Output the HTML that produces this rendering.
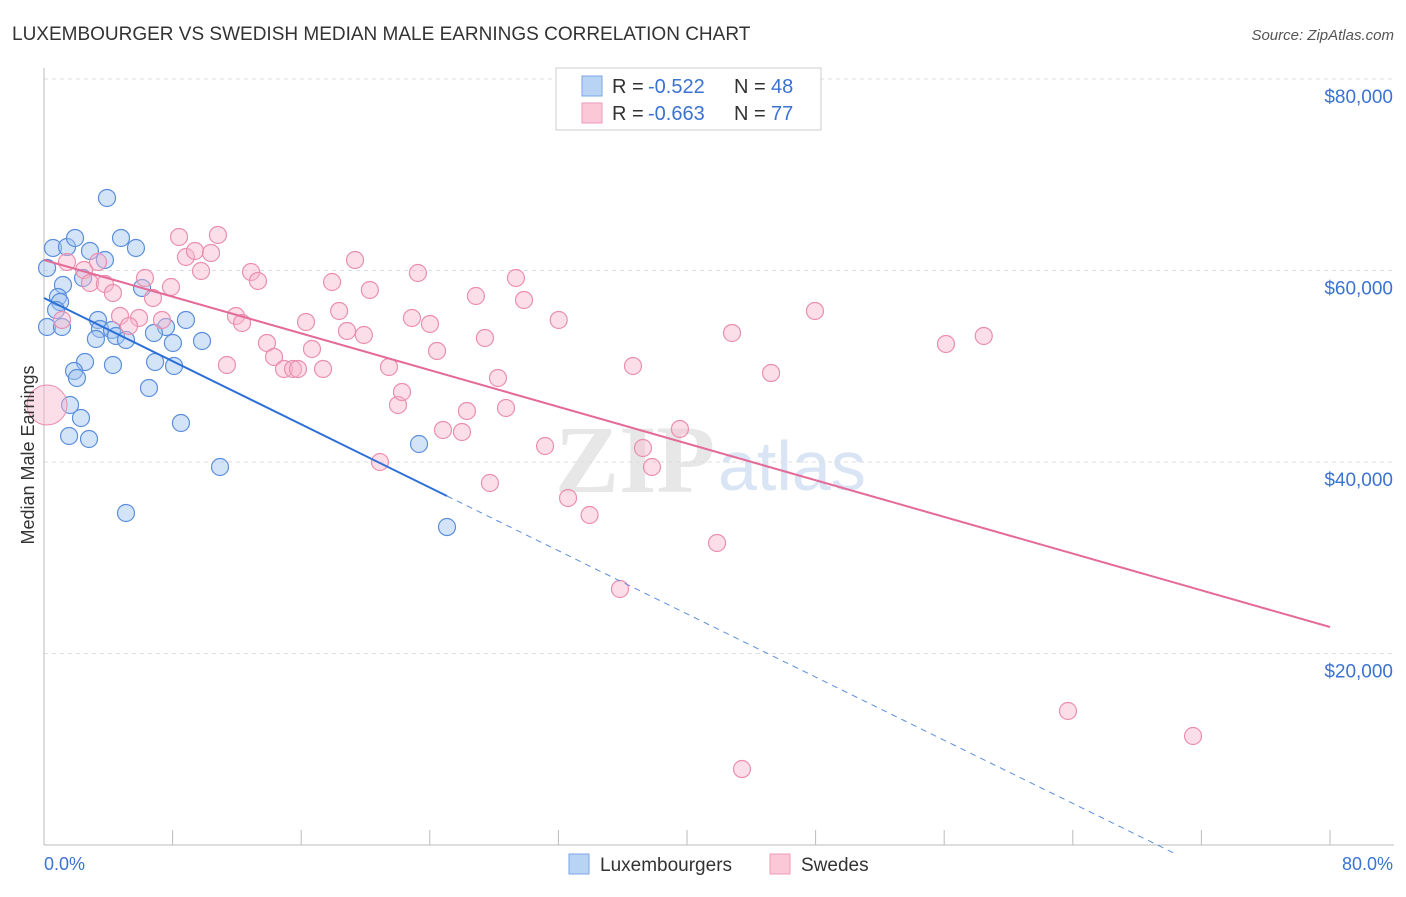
<!DOCTYPE html>
<html><head><meta charset="utf-8"><style>
body{margin:0;background:#fff;font-family:"Liberation Sans",sans-serif}
</style></head><body>
<svg id="c" width="1406" height="892" xmlns="http://www.w3.org/2000/svg">
<text x="12" y="40" font-size="19" fill="#333">LUXEMBOURGER VS SWEDISH MEDIAN MALE EARNINGS CORRELATION CHART</text>
<text x="1394" y="40" font-size="15" fill="#555" font-style="italic" text-anchor="end">Source: ZipAtlas.com</text>
<text x="555" y="492" font-size="96" fill="#ddd" font-family="Liberation Serif" font-weight="bold" opacity="0.7">ZIP</text>
<text x="718" y="490" font-size="70" fill="#c9d9f2" opacity="0.7">atlas</text>
<g id="grid"></g><g id="axes"></g><g id="pts"></g><g id="lines"></g>
<text transform="translate(34,455) rotate(-90)" font-size="18" fill="#333" text-anchor="middle">Median Male Earnings</text>
<text x="44" y="870" font-size="18" fill="#3b73d1">0.0%</text>
<text x="1393" y="870" font-size="18" fill="#3b73d1" text-anchor="end">80.0%</text>
<g>
<rect x="556" y="68" width="265" height="62" fill="#fff" stroke="#ccc"/>
<rect x="582" y="76" width="20" height="20" fill="#b9d3f5" stroke="#7aa6e6"/>
<rect x="582" y="103" width="20" height="20" fill="#fbc8d8" stroke="#ee9ab6"/>
<text x="612" y="93" font-size="20" fill="#333">R =</text>
<text x="648" y="93" font-size="20" fill="#3b73d1">-0.522</text>
<text x="734" y="93" font-size="20" fill="#333">N =</text>
<text x="771" y="93" font-size="20" fill="#3b73d1">48</text>
<text x="612" y="120" font-size="20" fill="#333">R =</text>
<text x="648" y="120" font-size="20" fill="#3b73d1">-0.663</text>
<text x="734" y="120" font-size="20" fill="#333">N =</text>
<text x="771" y="120" font-size="20" fill="#3b73d1">77</text>
</g>
<g>
<rect x="569" y="854" width="20" height="20" fill="#b9d3f5" stroke="#7aa6e6"/>
<text x="600" y="871" font-size="19" fill="#333">Luxembourgers</text>
<rect x="770" y="854" width="20" height="20" fill="#fbc8d8" stroke="#ee9ab6"/>
<text x="801" y="871" font-size="19" fill="#333">Swedes</text>
</g>
</svg>
<script>
const yTicks=[20000,40000,60000,80000];
const yTickLabels=["$20,000","$40,000","$60,000","$80,000"];
const xTicks=[0,8,16,24,32,40,48,56,64,72,80];
const luxX=[3.92,0.56,1.43,1.93,2.86,4.79,5.72,0.19,3.79,2.43,1.18,6.10,0.87,1.00,0.75,0.19,1.12,3.36,3.48,4.23,4.48,3.23,5.10,7.59,8.83,6.84,8.02,9.83,2.55,4.29,6.91,8.09,1.87,2.05,6.53,1.62,2.30,1.56,2.80,8.52,10.95,5.10,23.33,25.07];
const luxY=[67573,62350,62455,63395,62037,63395,62350,60262,61097,59217,58486,58173,57233,56711,55876,54100,54100,54831,53891,53787,53160,52847,52743,54100,54831,53473,52429,52638,50445,50132,50445,50027,49505,48774,47730,45954,44597,42717,42403,44074,39478,34674,41880,33211];
const sweX=[1.43,2.49,2.86,3.79,3.36,6.28,4.29,6.78,7.90,8.40,8.83,9.39,10.39,10.82,9.77,1.12,4.73,5.91,5.29,7.34,11.94,12.32,12.88,13.31,11.38,13.87,14.31,14.93,15.49,15.80,16.67,16.30,17.36,17.92,18.36,18.85,19.35,19.90,20.27,21.46,22.02,22.27,20.90,22.89,23.26,24.01,24.45,24.82,26.00,26.31,26.87,27.43,27.74,28.24,28.74,29.36,29.86,31.17,32.02,32.60,33.94,35.83,36.64,37.26,37.82,39.56,41.87,42.80,43.42,45.23,47.96,56.11,58.46,63.70,71.48];
const sweY=[60888,60053,58695,58590,60888,59217,57651,57128,58277,63499,61410,62037,61828,63708,59948,54831,55249,55040,54204,54831,55249,54518,59844,58904,50132,52429,50967,49714,49714,49714,51802,54622,49714,58799,55771,53682,61097,53264,57964,49923,45954,47312,40000,55040,59739,54413,51593,43343,43134,45327,57337,52951,37807,48774,45640,59217,56920,41671,54831,36241,34465,26737,50027,41462,39478,43447,31541,53473,7937,49296,55771,52325,53160,13995,11384];
const luxTrend=[[0,57129],[25.07,36450],[70.36,-904]];
const sweTrend=[[0,61097],[80,22768]];
const NS="http://www.w3.org/2000/svg";
const X=p=>44+p*16.075, Y=v=>845-v*0.009575;
function mk(t,a,p){const e=document.createElementNS(NS,t);for(const k in a)e.setAttribute(k,a[k]);document.getElementById(p).appendChild(e);return e;}
yTicks.forEach((v,i)=>{
 const g=mk('line',{x1:44,x2:1394,y1:Y(v),y2:Y(v),stroke:'#ddd','stroke-dasharray':'4,4'},'grid');
 
 
 const t=mk('text',{x:1393,y:Y(v)+24,'font-size':19,fill:'#3b73d1','text-anchor':'end'},'grid');
 t.textContent=yTickLabels[i];
 
 
});
const topLine=mk('line',{x1:44,x2:1394,y1:79,y2:79,stroke:'#ddd','stroke-dasharray':'4,4'},'grid');


const ya=mk('line',{x1:44,x2:44,y1:68,y2:845,stroke:'#bbb'},'axes');


const xa=mk('line',{x1:44,x2:1394,y1:845,y2:845,stroke:'#bbb'},'axes');


xTicks.forEach(p=>{const t=mk('line',{x1:X(p),x2:X(p),y1:830,y2:845,stroke:'#bbb'},'axes');
 
 });
luxX.forEach((x,i)=>{const c=mk('circle',{cx:X(x),cy:Y(luxY[i]),r:8.5,fill:'rgba(160,196,240,0.45)',stroke:'#5b8fdc','stroke-width':1.2},'pts');
 
 });
sweX.forEach((x,i)=>{const c=mk('circle',{cx:X(x),cy:Y(sweY[i]),r:8.5,fill:'rgba(248,182,204,0.45)',stroke:'#ea8fae','stroke-width':1.2},'pts');
 
 });
const big=mk('circle',{cx:X(0.19),cy:Y(45954),r:20,fill:'rgba(248,182,204,0.45)',stroke:'#ea8fae','stroke-width':1},'pts');


const l1=mk('line',{x1:X(luxTrend[0][0]),y1:Y(luxTrend[0][1]),x2:X(luxTrend[1][0]),y2:Y(luxTrend[1][1]),stroke:'#2c6fd8','stroke-width':2},'lines');


const l2=mk('line',{x1:X(luxTrend[1][0]),y1:Y(luxTrend[1][1]),x2:X(luxTrend[2][0]),y2:Y(luxTrend[2][1]),stroke:'#5b8fdc','stroke-width':1,'stroke-dasharray':'6,5'},'lines');


const l3=mk('line',{x1:X(sweTrend[0][0]),y1:Y(sweTrend[0][1]),x2:X(sweTrend[1][0]),y2:Y(sweTrend[1][1]),stroke:'#e46a97','stroke-width':2},'lines');


</script>
</body></html>
